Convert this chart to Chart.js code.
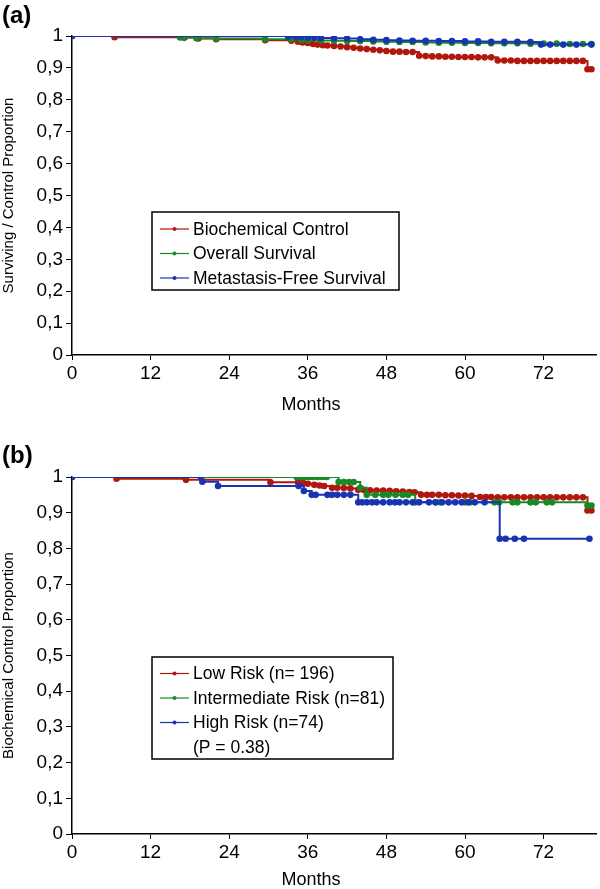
<!DOCTYPE html>
<html>
<head>
<meta charset="utf-8">
<script src="https://cdn.jsdelivr.net/npm/chart.js@4.4.1/dist/chart.umd.min.js"></script>
<style>
  body { margin: 0; background: #fff; width: 600px; height: 889px; position: relative; overflow: hidden; font-family: "Liberation Sans", Arial, sans-serif; }
  .panel { position: absolute; left: 0; width: 600px; }
  .tag { position: absolute; left: 2px; font-weight: bold; font-size: 24px; line-height: 1; color: #000; }
</style>
</head>
<body>
<div class="panel" style="top:0;height:430px"><canvas id="chartA" width="600" height="430"></canvas></div>
<div class="panel" style="top:440px;height:449px"><canvas id="chartB" width="600" height="449"></canvas></div>
<div class="tag" style="top:3px">(a)</div>
<div class="tag" style="top:443px">(b)</div>
<script>
// ---- panel (a) ----
const aLabels = ['Biochemical Control', 'Overall Survival', 'Metastasis-Free Survival'];
const aMonthsBC = [0, 6.5, 16.5, 17.2, 19.3, 22, 29.5, 33.5, 34.5, 35.2, 36, 36.8, 37.5, 38.3, 39, 40, 41, 42, 43, 44, 45, 46, 47, 48, 49, 50, 51, 52, 53, 54, 55, 56, 57, 58, 59, 60, 61, 62, 63, 64, 65, 66, 67, 68, 69, 70, 71, 72, 73, 74, 75, 76, 77, 78, 78.7, 79.3];
const aBC = [1, 0.996, 0.996, 0.995, 0.992, 0.99, 0.987, 0.985, 0.982, 0.98, 0.978, 0.975, 0.973, 0.971, 0.97, 0.969, 0.967, 0.965, 0.963, 0.961, 0.959, 0.957, 0.955, 0.953, 0.951, 0.951, 0.95, 0.95, 0.938, 0.937, 0.936, 0.936, 0.935, 0.935, 0.934, 0.934, 0.934, 0.933, 0.933, 0.933, 0.923, 0.923, 0.923, 0.922, 0.922, 0.922, 0.922, 0.922, 0.922, 0.922, 0.922, 0.922, 0.922, 0.922, 0.896, 0.896];
const aMonthsOS = [0, 16.5, 17, 19, 22, 29.5, 33.5, 35, 36, 38, 40, 42, 44, 46, 48, 50, 52, 54, 56, 58, 60, 62, 64, 66, 68, 70, 72, 74, 76, 78, 79.3];
const aOS = [1, 0.996, 0.995, 0.993, 0.992, 0.99, 0.99, 0.988, 0.987, 0.986, 0.985, 0.984, 0.984, 0.983, 0.982, 0.981, 0.981, 0.98, 0.979, 0.979, 0.978, 0.978, 0.977, 0.977, 0.977, 0.976, 0.976, 0.976, 0.975, 0.975, 0.975];
const aMonthsMFS = [0, 33, 34.2, 35, 36, 37, 38, 40, 42, 44, 46, 48, 50, 52, 54, 56, 58, 60, 62, 64, 66, 68, 70, 71.6, 73, 75, 77, 79.3];
const aMFS = [1, 0.998, 0.998, 0.997, 0.995, 0.995, 0.994, 0.993, 0.992, 0.99, 0.988, 0.987, 0.986, 0.985, 0.985, 0.984, 0.984, 0.983, 0.983, 0.982, 0.982, 0.982, 0.981, 0.973, 0.973, 0.973, 0.973, 0.973];

// ---- panel (b) ----
const bLabels = ['Low Risk (n= 196)', 'Intermediate Risk (n=81)', 'High Risk (n=74)'];
const bNote = '(P = 0.38)';
const bMonthsLow = [0, 6.8, 17.4, 30.3, 34.5, 35.3, 36, 37, 37.8, 38.5, 39.7, 40.5, 41.5, 42.5, 43.7, 44.5, 45.5, 46.5, 47.5, 48.5, 49.5, 50.5, 51.5, 52.3, 53.3, 54.2, 55, 56, 57, 58, 59, 60, 61, 62.3, 63.2, 64, 65, 66, 67, 68, 69, 70, 71, 72, 73, 74, 75, 76, 77, 78, 78.7, 79.3];
const bLow = [1, 0.995, 0.992, 0.985, 0.985, 0.983, 0.981, 0.978, 0.976, 0.975, 0.97, 0.97, 0.969, 0.968, 0.964, 0.964, 0.963, 0.962, 0.962, 0.961, 0.96, 0.959, 0.958, 0.957, 0.95, 0.95, 0.95, 0.95, 0.949, 0.949, 0.948, 0.948, 0.947, 0.944, 0.944, 0.944, 0.943, 0.943, 0.943, 0.943, 0.943, 0.943, 0.943, 0.943, 0.943, 0.943, 0.943, 0.943, 0.943, 0.943, 0.906, 0.906];
const bMonthsInt = [0, 34.3, 35, 35.6, 36.2, 36.8, 37.5, 38.2, 38.9, 40.7, 41.5, 42.3, 43, 44, 45, 46.3, 47.5, 48.3, 49.4, 50.5, 51.3, 52.4, 55.5, 56.2, 60, 60.8, 64.5, 65.2, 67.3, 68, 70, 70.8, 72.5, 73.3, 78.7, 79.3];
const bInt = [1, 1, 1, 1, 1, 1, 1, 1, 1, 0.986, 0.986, 0.986, 0.986, 0.97, 0.95, 0.95, 0.95, 0.95, 0.95, 0.95, 0.95, 0.929, 0.929, 0.929, 0.929, 0.929, 0.929, 0.929, 0.929, 0.929, 0.929, 0.929, 0.929, 0.929, 0.92, 0.92];
const bMonthsHigh = [0, 19.7, 19.9, 22.3, 34.6, 35.4, 36.6, 37.2, 39, 39.7, 40.5, 41.5, 42.5, 43.7, 44.3, 45, 45.8, 46.5, 47.5, 48.5, 49.3, 50, 51, 52, 53, 54.5, 55.5, 56.5, 57.5, 58.5, 59.5, 60.5, 61.5, 63, 65.3, 66.2, 67.6, 69, 79];
const bHigh = [1, 1, 0.987, 0.975, 0.975, 0.961, 0.95, 0.95, 0.95, 0.95, 0.95, 0.95, 0.95, 0.929, 0.929, 0.929, 0.929, 0.929, 0.929, 0.929, 0.929, 0.929, 0.929, 0.929, 0.929, 0.929, 0.929, 0.929, 0.929, 0.929, 0.929, 0.929, 0.929, 0.929, 0.827, 0.827, 0.827, 0.827, 0.827];

const xMax = 80;
const xStep = 12;
const colors = ['#b0170f', '#178a26', '#1934b0'];
const FONT = '"Liberation Sans", Arial, Helvetica, sans-serif';

const toPoints = (xs, ys) => xs.map((x, i) => ({ x: x, y: ys[i] }));

function series(labels, pairs) {
  return pairs.map((p, i) => ({
    label: labels[i],
    data: toPoints(p[0], p[1]),
    borderColor: colors[i],
    backgroundColor: colors[i],
    borderWidth: 2,
    stepped: true,
    pointRadius: 3.3,
    pointBorderWidth: 0,
    pointBackgroundColor: colors[i],
    order: 2 - i
  }));
}

// framed legend inside the plot, plus the x title placed like the original
const boxLegend = {
  id: 'boxLegend',
  afterDraw(chart, args, o) {
    const ctx = chart.ctx;
    ctx.save();
    ctx.fillStyle = '#fff';
    ctx.fillRect(o.x, o.y, o.w, o.h);
    ctx.strokeStyle = '#000';
    ctx.lineWidth = 1.5;
    ctx.strokeRect(o.x, o.y, o.w, o.h);
    ctx.font = '17.5px ' + FONT;
    ctx.textBaseline = 'middle';
    ctx.fillStyle = '#000';
    chart.data.datasets.forEach((ds, i) => {
      const y = o.y + o.first + i * o.gap;
      ctx.strokeStyle = ds.borderColor;
      ctx.lineWidth = 1.2;
      ctx.beginPath();
      ctx.moveTo(o.x + 8, y);
      ctx.lineTo(o.x + 37, y);
      ctx.stroke();
      ctx.fillStyle = ds.borderColor;
      ctx.beginPath();
      ctx.arc(o.x + 22.5, y, 2, 0, Math.PI * 2);
      ctx.fill();
      ctx.fillStyle = '#000';
      ctx.fillText(ds.label, o.x + 41, y + 1);
    });
    (o.extra || []).forEach((t, j) => {
      const y = o.y + o.first + (chart.data.datasets.length + j) * o.gap;
      ctx.fillText(t, o.x + 41, y + 1);
    });
    ctx.font = '18px ' + FONT;
    ctx.textAlign = 'center';
    ctx.fillText('Months', o.titleX, o.titleY);
    ctx.restore();
  }
};

function makeChart(id, datasets, yTitle, top, plotH, legend) {
  const el = document.getElementById(id);
  const H = el.height;
  return new Chart(el.getContext('2d'), {
    type: 'line',
    data: { datasets: datasets },
    plugins: [boxLegend],
    options: {
      responsive: false,
      animation: false,
      layout: { padding: { top: top, right: 2, left: 0, bottom: 0 } },
      plugins: {
        legend: { display: false },
        tooltip: { enabled: false },
        boxLegend: legend
      },
      scales: {
        x: {
          type: 'linear',
          min: 0,
          max: xMax,
          afterFit: s => { s.height = H - top - plotH; },
          border: { display: true, color: '#000', width: 1.5 },
          grid: { drawOnChartArea: false, color: '#000', tickLength: 5, lineWidth: 1 },
          ticks: { stepSize: xStep, includeBounds: false, color: '#000', padding: 2, maxRotation: 0, font: { family: FONT, size: 19 } }
        },
        y: {
          min: 0,
          max: 1,
          afterFit: s => { s.width = 72; },
          border: { display: true, color: '#000', width: 1.5 },
          grid: { drawOnChartArea: false, color: '#000', tickLength: 6, lineWidth: 1 },
          ticks: {
            stepSize: 0.1,
            color: '#000',
            padding: 3,
            font: { family: FONT, size: 19 },
            callback: v => (v === 0 || v === 1) ? String(v) : v.toFixed(1).replace('.', ',')
          },
          title: { display: true, text: yTitle, color: '#000', font: { family: FONT, size: 15 }, padding: { top: 0, bottom: 0 } }
        }
      }
    }
  });
}

makeChart('chartA',
  series(aLabels, [[aMonthsBC, aBC], [aMonthsOS, aOS], [aMonthsMFS, aMFS]]),
  'Surviving / Control Proportion', 36, 319,
  { x: 152, y: 212, w: 247, h: 78, first: 17, gap: 24.5, titleX: 311, titleY: 405 });

makeChart('chartB',
  series(bLabels, [[bMonthsLow, bLow], [bMonthsInt, bInt], [bMonthsHigh, bHigh]]),
  'Biochemical Control Proportion', 37, 357,
  { x: 152, y: 217, w: 241, h: 102, first: 16.5, gap: 24.5, extra: [bNote], titleX: 311, titleY: 440 });
</script>
</body>
</html>
